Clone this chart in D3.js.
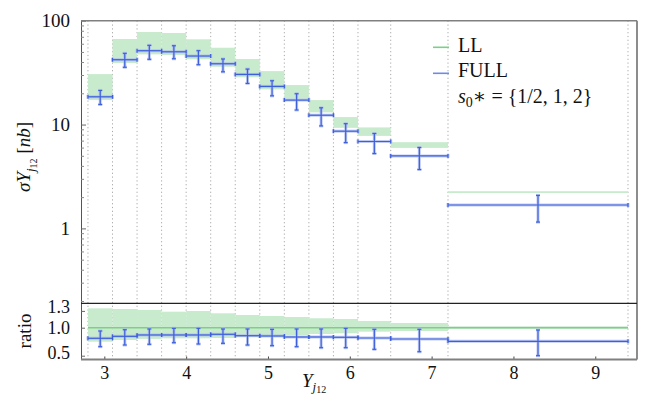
<!DOCTYPE html>
<html><head><meta charset="utf-8">
<script src="https://cdn.jsdelivr.net/npm/d3@7"></script>
<style>
body{margin:0;background:#fff;}
svg text{font-family:"Liberation Serif","DejaVu Serif",serif;fill:#111;}
</style></head>
<body><svg id="c" width="664" height="399"></svg>
<script>
// Bin edges in Y_j12
const binEdges = [2.8,3.1,3.4,3.7,4.0,4.3,4.6,4.9,5.2,5.5,5.8,6.1,6.5,7.2,9.4];
// Top panel: LL scale-variation band [nb]
const llHigh = [30.6,66.6,77.8,76.1,66.2,54.9,42.8,32.7,24.0,17.2,11.8,9.38,6.76,2.28];
const llLow  = [17.2,39.1,47.4,46.7,42.5,36.0,28.5,21.8,17.7,13.1,9.3,7.78,5.96,2.19];
// Top panel: FULL central and error range [nb]
const fullVal = [18.5,42.1,51.4,50.2,45.7,38.5,30.4,23.3,17.2,12.3,8.63,6.87,4.99,1.68];
const fullHi  = [21.3,48.5,57.9,57.4,51.4,42.8,34.2,26.4,19.8,14.5,10.2,8.2,6.01,2.08];
const fullLo  = [15.6,35.6,42.5,43.0,37.7,32.2,24.9,18.9,13.8,9.7,6.7,5.26,3.69,1.15];
// Ratio panel: LL band / LL central
const ratioLLHigh = [1.346,1.334,1.316,1.286,1.298,1.257,1.227,1.209,1.191,1.168,1.155,1.12,1.084,1.025];
const ratioLLLow  = [0.75,0.78,0.80,0.81,0.81,0.816,0.834,0.843,0.87,0.888,0.90,0.929,0.941,0.982];
// Ratio panel: FULL / LL central
const ratioFull   = [0.811,0.846,0.870,0.870,0.870,0.882,0.857,0.852,0.834,0.834,0.829,0.816,0.798,0.757];
const ratioFullHi = [0.941,0.964,0.977,0.989,0.989,0.977,0.977,0.971,0.977,0.977,0.989,0.971,0.971,0.959];
const ratioFullLo = [0.661,0.691,0.704,0.732,0.709,0.721,0.691,0.679,0.661,0.643,0.643,0.614,0.571,0.50];
// Tick labels
const xTicks = [3,4,5,6,7,8,9];
const yTicksTop = [1,10,100];
const yTicksRatio = [0.5,1.0,1.3];

const FONT = '"Liberation Serif","DejaVu Serif",serif';
const svg = d3.select("#c");
const L=81, R=637, T=20.7, M=303.3, B=359.5;
const x = d3.scaleLinear().domain([2.715,9.51]).range([L,R]);
const y = d3.scaleLog().domain([0.19,100]).range([M,T]);
const yr = d3.scaleLinear().domain([0.432,1.4357]).range([B,M]);

const bins = d3.range(binEdges.length-1).map(i=>({i,x0:binEdges[i],x1:binEdges[i+1],xc:(binEdges[i]+binEdges[i+1])/2}));

const green="#c8eacd", gline="#7dcf88", blue="#3d5fdb", halo="#aebdf1";

// grid lines
svg.append("g").selectAll("line").data(binEdges).join("line")
  .attr("x1",d=>x(d)).attr("x2",d=>x(d)).attr("y1",T).attr("y2",B)
  .attr("stroke","#a8a8a8").attr("stroke-width",1).attr("stroke-dasharray","1.2,2.6");

// top bands
svg.append("g").selectAll("rect").data(bins).join("rect")
  .attr("x",d=>x(d.x0)).attr("width",d=>x(d.x1)-x(d.x0))
  .attr("y",d=>y(llHigh[d.i])).attr("height",d=>Math.max(1.5,y(llLow[d.i])-y(llHigh[d.i])))
  .attr("fill",green);
// ratio bands
svg.append("g").selectAll("rect").data(bins).join("rect")
  .attr("x",d=>x(d.x0)).attr("width",d=>x(d.x1)-x(d.x0))
  .attr("y",d=>yr(ratioLLHigh[d.i])).attr("height",d=>yr(ratioLLLow[d.i])-yr(ratioLLHigh[d.i]))
  .attr("fill",green);
svg.append("line").attr("x1",x(binEdges[0])).attr("x2",x(binEdges[binEdges.length-1]))
  .attr("y1",yr(1)).attr("y2",yr(1)).attr("stroke",gline).attr("stroke-width",1.6);

function drawBlue(g, ys, val, hi, lo){
  [[halo,3,0.8],[blue,1.2,1]].forEach(([col,w,op])=>{
    const gg=g.append("g").attr("stroke",col).attr("stroke-width",w).attr("opacity",op).attr("fill","none");
    bins.forEach(d=>{
      const yc=ys(val[d.i]);
      gg.append("line").attr("x1",x(d.x0)).attr("x2",x(d.x1)).attr("y1",yc).attr("y2",yc);
      gg.append("line").attr("x1",x(d.x0)).attr("x2",x(d.x0)).attr("y1",yc-2).attr("y2",yc+2);
      gg.append("line").attr("x1",x(d.x1)).attr("x2",x(d.x1)).attr("y1",yc-2).attr("y2",yc+2);
      const xc=x(d.xc), yh=ys(hi[d.i]), yl=ys(lo[d.i]);
      gg.append("line").attr("x1",xc).attr("x2",xc).attr("y1",yh).attr("y2",yl);
      gg.append("line").attr("x1",xc-2).attr("x2",xc+2).attr("y1",yh).attr("y2",yh);
      gg.append("line").attr("x1",xc-2).attr("x2",xc+2).attr("y1",yl).attr("y2",yl);
    });
  });
}
drawBlue(svg.append("g"), y, fullVal, fullHi, fullLo);
drawBlue(svg.append("g"), yr, ratioFull, ratioFullHi, ratioFullLo);

// axes
const minorTicks = [];
[0.1,1,10].forEach(p=>{for(let k=2;k<=9;k++){const v=p*k; if(v>=0.19&&v<=100) minorTicks.push(v);}});
const ay = svg.append("g").attr("transform",`translate(${L},0)`)
  .call(d3.axisLeft(y).tickValues(yTicksTop).tickFormat(d3.format("d")).tickSizeInner(-5).tickSizeOuter(0).tickPadding(11));
ay.attr("font-family",null).attr("font-size",null);
ay.select(".domain").attr("stroke","#555");
ay.selectAll(".tick line").attr("stroke","#666");
ay.selectAll("text").style("font-size","19px").style("font-family",FONT).attr("dy","0.33em");
const aym = svg.append("g").attr("transform",`translate(${L},0)`)
  .call(d3.axisLeft(y).tickValues(minorTicks).tickFormat("").tickSizeInner(-3).tickSizeOuter(0));
aym.select(".domain").remove();
aym.selectAll(".tick line").attr("stroke","#888");

const ayr = svg.append("g").attr("transform",`translate(${L},0)`)
  .call(d3.axisLeft(yr).tickValues(yTicksRatio).tickFormat(d3.format(".1f")).tickSizeInner(-4).tickSizeOuter(0).tickPadding(11));
ayr.attr("font-family",null).attr("font-size",null);
ayr.select(".domain").attr("stroke","#555");
ayr.selectAll(".tick line").attr("stroke","#666");
ayr.selectAll("text").style("font-size","18px").style("font-family",FONT)
  .attr("dy",d=> d===1.3 ? "0.1em" : (d===0.5 ? "0.17em" : "0.33em"));

const ax = svg.append("g").attr("transform",`translate(0,${B})`)
  .call(d3.axisBottom(x).tickValues(xTicks).tickFormat(d3.format("d")).tickSizeInner(-3).tickSizeOuter(0));
ax.attr("font-family",null).attr("font-size",null);
ax.select(".domain").remove();
ax.selectAll(".tick line").attr("stroke","#444");
ax.selectAll("text").style("font-size","18px").style("font-family",FONT).attr("y",19.5).attr("dy","0");

// frame
svg.append("line").attr("x1",L).attr("x2",R).attr("y1",T).attr("y2",T).attr("stroke","#808080").attr("stroke-width",1.6);
svg.append("line").attr("x1",R).attr("x2",R).attr("y1",T).attr("y2",B).attr("stroke","#808080").attr("stroke-width",1.8);
svg.append("line").attr("x1",L).attr("x2",R).attr("y1",B).attr("y2",B).attr("stroke","#808080").attr("stroke-width",1.8);
svg.append("line").attr("x1",L).attr("x2",R).attr("y1",M).attr("y2",M).attr("stroke","#222").attr("stroke-width",1.3);

// axis titles
const yt = svg.append("text").attr("transform","translate(30,157) rotate(-90)")
  .attr("text-anchor","middle").style("font-size","19px").style("font-family",FONT);
yt.append("tspan").attr("font-style","italic").text("σY");
yt.append("tspan").attr("font-style","italic").attr("dy",5).style("font-size","13px").text("j");
yt.append("tspan").attr("dy",2).style("font-size","10px").text("12");
yt.append("tspan").attr("dy",-7).text(" [");
yt.append("tspan").attr("font-style","italic").text("nb");
yt.append("tspan").text("]");

svg.append("text").attr("transform","translate(31,331) rotate(-90)")
  .attr("text-anchor","middle").style("font-size","19px").style("font-family",FONT).text("ratio");

const xt = svg.append("text").attr("x",302).attr("y",387).style("font-size","19px").style("font-family",FONT);
xt.append("tspan").attr("font-style","italic").text("Y");
xt.append("tspan").attr("font-style","italic").attr("dy",4).style("font-size","13px").text("j");
xt.append("tspan").attr("dy",2).style("font-size","10px").text("12");

// legend
const lg = svg.append("g").style("font-family",FONT);
lg.append("line").attr("x1",433).attr("x2",449).attr("y1",47.3).attr("y2",47.3).attr("stroke",gline).attr("stroke-width",1.6);
lg.append("line").attr("x1",433).attr("x2",449).attr("y1",73.3).attr("y2",73.3).attr("stroke","#6f8ae6").attr("stroke-width",1.6);
lg.append("text").attr("x",458).attr("y",51.7).style("font-size","20px").text("LL");
lg.append("text").attr("x",458).attr("y",77.3).style("font-size","20px").text("FULL");
const s0 = lg.append("text").attr("x",458).attr("y",103).style("font-size","20px");
s0.append("tspan").attr("font-style","italic").text("s");
s0.append("tspan").attr("dy",4).style("font-size","14px").text("0");
s0.append("tspan").attr("dy",-4).text("∗ = {1/2, 1, 2}");
</script></body></html>
